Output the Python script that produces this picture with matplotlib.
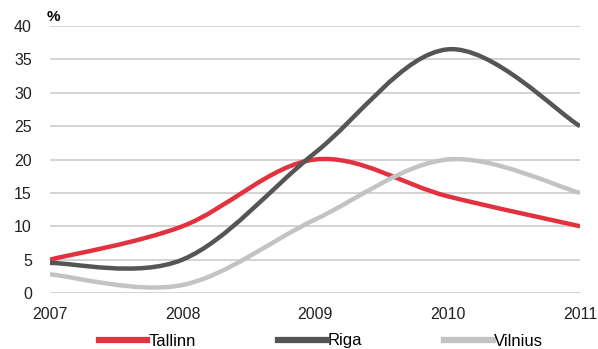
import matplotlib.pyplot as plt
from matplotlib.path import Path
from matplotlib.patches import PathPatch
from matplotlib.lines import Line2D
import numpy as np

plt.rcParams['font.family'] = ['Liberation Sans', 'DejaVu Sans']

years = [2007, 2008, 2009, 2010, 2011]
tallinn = [5.0, 10.0, 20.0, 14.5, 10.0]
riga = [4.5, 5.0, 21.0, 36.5, 25.0]
vilnius = [2.8, 1.2, 11.0, 20.0, 15.0]

series = [
    ("Tallinn", tallinn, "#e3323f"),
    ("Riga", riga, "#555555"),
    ("Vilnius", vilnius, "#c3c3c3"),
]


def smooth_path(xs, ys):
    # excel-like smoothed line: catmull-rom segments as cubic beziers
    x = np.asarray(xs, float)
    y = np.asarray(ys, float)
    n = len(x)
    verts = [(x[0], y[0])]
    codes = [Path.MOVETO]
    for i in range(n - 1):
        p0 = (x[max(i - 1, 0)], y[max(i - 1, 0)])
        p1 = (x[i], y[i])
        p2 = (x[i + 1], y[i + 1])
        p3 = (x[min(i + 2, n - 1)], y[min(i + 2, n - 1)])
        c1 = (p1[0] + (p2[0] - p0[0]) / 6, p1[1] + (p2[1] - p0[1]) / 6)
        c2 = (p2[0] - (p3[0] - p1[0]) / 6, p2[1] - (p3[1] - p1[1]) / 6)
        verts += [c1, c2, p2]
        codes += [Path.CURVE4] * 3
    return Path(verts, codes)


fig = plt.figure(figsize=(5.98, 3.49), dpi=100)
ax = fig.add_axes([50 / 598, 1 - 293 / 349, 530 / 598, 267 / 349])

for name, vals, col in series:
    ax.add_patch(PathPatch(smooth_path(years, vals), facecolor='none',
                           edgecolor=col, lw=3.2, capstyle='butt', zorder=3))

ax.set_xlim(2007, 2011)
ax.set_ylim(0, 40)
ax.set_yticks(range(0, 41, 5))
ax.set_xticks(years)
ax.grid(axis='y', color='#cccccc', lw=1.2)
ax.set_axisbelow(True)
for s in ax.spines.values():
    s.set_visible(False)
ax.tick_params(length=0, labelsize=11.5, colors='#222222')
ax.tick_params(axis='y', pad=13)
ax.tick_params(axis='x', pad=10)

fig.text(47 / 598, 1 - 17 / 349, "%", fontsize=11, fontweight='bold',
         va='center', ha='left')

handles = [Line2D([], [], color=c, lw=4.5) for _, _, c in series]
fig.legend(handles, [s[0] for s in series], loc='center',
           bbox_to_anchor=(0.537, 1 - 341 / 349), ncol=3, frameon=False,
           handlelength=2.9, handletextpad=0.1, columnspacing=4.9,
           fontsize=12)

fig.savefig("out.png", dpi=100)
